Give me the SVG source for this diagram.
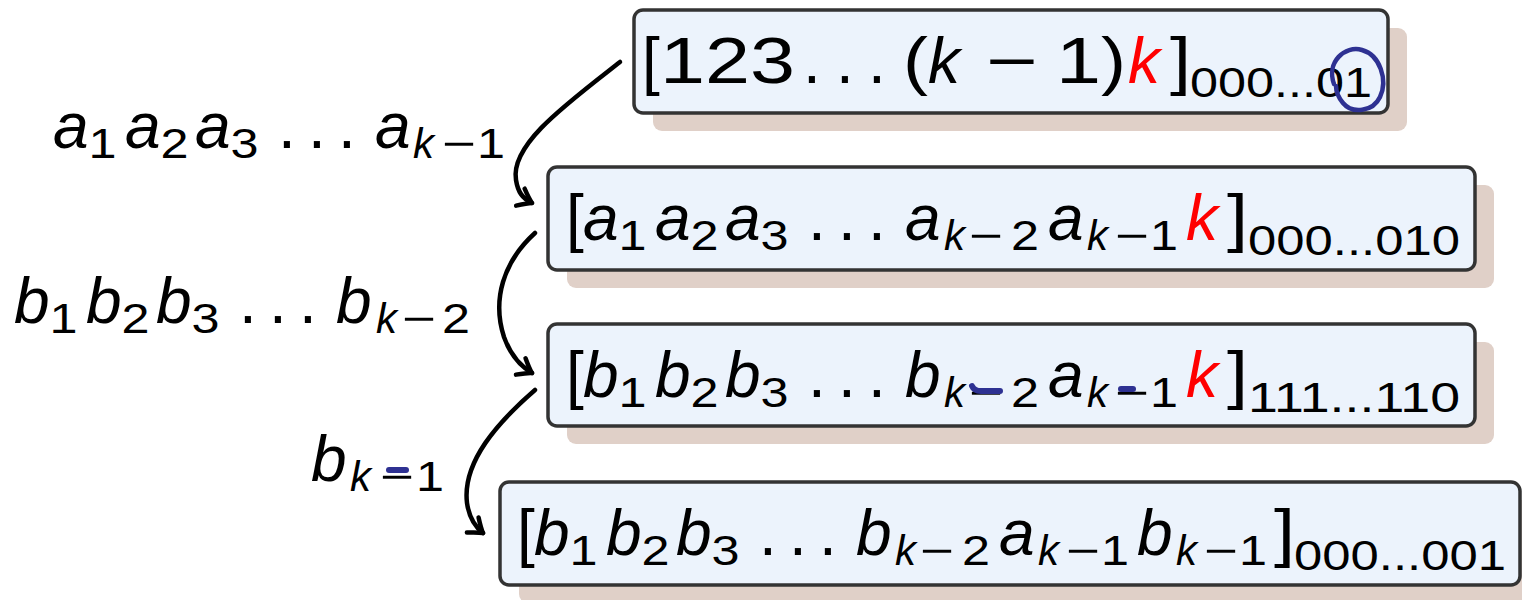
<svg xmlns="http://www.w3.org/2000/svg" width="1522" height="600" viewBox="0 0 1522 600">
<style>
.box{fill:#ecf3fc;stroke:#333;stroke-width:3.5}
.sh{fill:#e0d0c8}
.t{font-family:"Liberation Sans",Arial,Helvetica,sans-serif;font-size:64px;fill:#000}
.i{font-style:italic}
.s{font-size:42px}
.r{fill:#f00}
.arr{fill:none;stroke:#000;stroke-width:4.5;stroke-linecap:round}
.blue{fill:none;stroke:#2e3192;stroke-linecap:round}
</style>
<defs>
<marker id="ah" markerUnits="userSpaceOnUse" viewBox="-16 -12 20 24" markerWidth="20" markerHeight="24" refX="0" refY="0" orient="auto" overflow="visible">
<path d="M -13 -9.5 Q -4 -2 0 0 Q -4 2 -13 9.5" fill="none" stroke="#000" stroke-width="4.5" stroke-linecap="round" stroke-linejoin="round"/>
</marker>
</defs>

<g id="labels">
<text class="t" y="148"><tspan class="i" x="53">a</tspan><tspan class="s" x="88.6" y="158" textLength="28" lengthAdjust="spacingAndGlyphs">1</tspan><tspan class="i" x="125" y="148">a</tspan><tspan class="s" x="160.6" y="158" textLength="28" lengthAdjust="spacingAndGlyphs">2</tspan><tspan class="i" x="195" y="148">a</tspan><tspan class="s" x="230.6" y="158" textLength="28" lengthAdjust="spacingAndGlyphs">3</tspan><tspan x="278" y="148">.</tspan><tspan x="308">.</tspan><tspan x="338">.</tspan><tspan class="i" x="375">a</tspan><tspan class="s i" x="413" y="158">k</tspan><tspan class="s" x="442" textLength="34" lengthAdjust="spacingAndGlyphs">−</tspan><tspan class="s" x="477" textLength="28" lengthAdjust="spacingAndGlyphs">1</tspan></text>
<text class="t" y="323"><tspan class="i" x="14">b</tspan><tspan class="s" x="49.6" y="333" textLength="28" lengthAdjust="spacingAndGlyphs">1</tspan><tspan class="i" x="86" y="323">b</tspan><tspan class="s" x="121.6" y="333" textLength="28" lengthAdjust="spacingAndGlyphs">2</tspan><tspan class="i" x="156" y="323">b</tspan><tspan class="s" x="191.6" y="333" textLength="28" lengthAdjust="spacingAndGlyphs">3</tspan><tspan x="239" y="323">.</tspan><tspan x="269">.</tspan><tspan x="299">.</tspan><tspan class="i" x="336">b</tspan><tspan class="s i" x="376" y="333">k</tspan><tspan class="s" x="402" textLength="34" lengthAdjust="spacingAndGlyphs">−</tspan><tspan class="s" x="442" textLength="28" lengthAdjust="spacingAndGlyphs">2</tspan></text>
<text class="t" y="481"><tspan class="i" x="311">b</tspan><tspan class="s i" x="350" y="491">k</tspan><tspan class="s" x="380" textLength="34" lengthAdjust="spacingAndGlyphs">−</tspan><tspan class="s" x="416" textLength="28" lengthAdjust="spacingAndGlyphs">1</tspan></text>
<path class="blue" stroke-width="6" d="M 389 470 L 406 470"/>
</g>

<g id="node1">
<rect class="sh" x="653" y="28" width="754" height="103" rx="9"/>
<rect class="box" x="634" y="10" width="754" height="103" rx="9"/>
<text class="t" y="83"><tspan x="642">[</tspan><tspan x="660" textLength="135" lengthAdjust="spacingAndGlyphs">123</tspan><tspan x="803">.</tspan><tspan x="836">.</tspan><tspan x="868">.</tspan><tspan x="903" textLength="25" lengthAdjust="spacingAndGlyphs">(</tspan><tspan class="i" x="928">k</tspan><tspan x="986" textLength="52" lengthAdjust="spacingAndGlyphs">−</tspan><tspan x="1056" textLength="45" lengthAdjust="spacingAndGlyphs">1</tspan><tspan x="1101" textLength="25" lengthAdjust="spacingAndGlyphs">)</tspan><tspan class="i r" x="1128">k</tspan><tspan x="1170" textLength="21" lengthAdjust="spacingAndGlyphs">]</tspan><tspan class="s" x="1190" y="97" textLength="182" lengthAdjust="spacingAndGlyphs">000...01</tspan></text>
<path class="blue" stroke-width="4.5" d="M 1334 84 C 1326 62, 1345 45, 1362 50 C 1380 55, 1388 80, 1380 97 C 1373 112, 1352 114, 1343 103 C 1338 97, 1336 90, 1336 86"/>
</g>

<g id="node2">
<rect class="sh" x="567" y="185" width="927" height="103" rx="9"/>
<rect class="box" x="548" y="167" width="927" height="103" rx="9"/>
<text class="t" y="240"><tspan x="566">[</tspan><tspan class="i" x="583">a</tspan><tspan class="s" x="618.6" y="250" textLength="28" lengthAdjust="spacingAndGlyphs">1</tspan><tspan class="i" x="655" y="240">a</tspan><tspan class="s" x="690.6" y="250" textLength="28" lengthAdjust="spacingAndGlyphs">2</tspan><tspan class="i" x="725" y="240">a</tspan><tspan class="s" x="760.6" y="250" textLength="28" lengthAdjust="spacingAndGlyphs">3</tspan><tspan x="808" y="240">.</tspan><tspan x="838">.</tspan><tspan x="868">.</tspan><tspan class="i" x="905">a</tspan><tspan class="s i" x="944" y="250">k</tspan><tspan class="s" x="969" textLength="34" lengthAdjust="spacingAndGlyphs">−</tspan><tspan class="s" x="1011" textLength="28" lengthAdjust="spacingAndGlyphs">2</tspan><tspan class="i" x="1048" y="240">a</tspan><tspan class="s i" x="1087" y="250">k</tspan><tspan class="s" x="1115" textLength="34" lengthAdjust="spacingAndGlyphs">−</tspan><tspan class="s" x="1150" textLength="28" lengthAdjust="spacingAndGlyphs">1</tspan><tspan class="i r" x="1186" y="240">k</tspan><tspan x="1227" textLength="21" lengthAdjust="spacingAndGlyphs">]</tspan><tspan class="s" x="1248" y="255" textLength="212" lengthAdjust="spacingAndGlyphs">000...010</tspan></text>
</g>

<g id="node3">
<rect class="sh" x="567" y="342" width="927" height="102" rx="9"/>
<rect class="box" x="548" y="324" width="927" height="102" rx="9"/>
<text class="t" y="397"><tspan x="566">[</tspan><tspan class="i" x="583">b</tspan><tspan class="s" x="618.6" y="407" textLength="28" lengthAdjust="spacingAndGlyphs">1</tspan><tspan class="i" x="655" y="397">b</tspan><tspan class="s" x="690.6" y="407" textLength="28" lengthAdjust="spacingAndGlyphs">2</tspan><tspan class="i" x="725" y="397">b</tspan><tspan class="s" x="760.6" y="407" textLength="28" lengthAdjust="spacingAndGlyphs">3</tspan><tspan x="808" y="397">.</tspan><tspan x="838">.</tspan><tspan x="868">.</tspan><tspan class="i" x="905">b</tspan><tspan class="s i" x="944" y="407">k</tspan><tspan class="s" x="969" textLength="34" lengthAdjust="spacingAndGlyphs">−</tspan><tspan class="s" x="1011" textLength="28" lengthAdjust="spacingAndGlyphs">2</tspan><tspan class="i" x="1048" y="397">a</tspan><tspan class="s i" x="1087" y="407">k</tspan><tspan class="s" x="1115" textLength="34" lengthAdjust="spacingAndGlyphs">−</tspan><tspan class="s" x="1150" textLength="28" lengthAdjust="spacingAndGlyphs">1</tspan><tspan class="i r" x="1186" y="397">k</tspan><tspan x="1227" textLength="21" lengthAdjust="spacingAndGlyphs">]</tspan><tspan class="s" x="1248" y="412" textLength="212" lengthAdjust="spacingAndGlyphs">111...110</tspan></text>
<path class="blue" stroke-width="6" d="M 972 386 Q 974 391 981 391 L 1000 391"/>
<path class="blue" stroke-width="6" d="M 1121 389 L 1133 389"/>
</g>

<g id="node4">
<rect class="sh" x="519" y="500" width="1020" height="103" rx="9"/>
<rect class="box" x="500" y="482" width="1020" height="103" rx="9"/>
<text class="t" y="555"><tspan x="517">[</tspan><tspan class="i" x="534">b</tspan><tspan class="s" x="569.6" y="565" textLength="28" lengthAdjust="spacingAndGlyphs">1</tspan><tspan class="i" x="606" y="555">b</tspan><tspan class="s" x="641.6" y="565" textLength="28" lengthAdjust="spacingAndGlyphs">2</tspan><tspan class="i" x="676" y="555">b</tspan><tspan class="s" x="711.6" y="565" textLength="28" lengthAdjust="spacingAndGlyphs">3</tspan><tspan x="759" y="555">.</tspan><tspan x="789">.</tspan><tspan x="819">.</tspan><tspan class="i" x="856">b</tspan><tspan class="s i" x="895" y="565">k</tspan><tspan class="s" x="920" textLength="34" lengthAdjust="spacingAndGlyphs">−</tspan><tspan class="s" x="962" textLength="28" lengthAdjust="spacingAndGlyphs">2</tspan><tspan class="i" x="999" y="555">a</tspan><tspan class="s i" x="1038" y="565">k</tspan><tspan class="s" x="1066" textLength="34" lengthAdjust="spacingAndGlyphs">−</tspan><tspan class="s" x="1101" textLength="28" lengthAdjust="spacingAndGlyphs">1</tspan><tspan class="i" x="1137" y="555">b</tspan><tspan class="s i" x="1176" y="565">k</tspan><tspan class="s" x="1204" textLength="34" lengthAdjust="spacingAndGlyphs">−</tspan><tspan class="s" x="1239" textLength="28" lengthAdjust="spacingAndGlyphs">1</tspan><tspan x="1274" y="555" textLength="21" lengthAdjust="spacingAndGlyphs">]</tspan><tspan class="s" x="1294" y="570" textLength="212" lengthAdjust="spacingAndGlyphs">000...001</tspan></text>
</g>

<g id="connectors">
<path class="arr" marker-end="url(#ah)" d="M 620 62 C 565 105, 510 145, 516 180 C 518 192, 522 198, 532 203"/>
<path class="arr" marker-end="url(#ah)" d="M 535 233 C 503 262, 492 300, 504 337 C 510 354, 520 366, 532 373"/>
<path class="arr" marker-end="url(#ah)" d="M 535 390 C 498 422, 462 462, 467 503 C 469 517, 474 526, 483 533"/>
</g>
</svg>
